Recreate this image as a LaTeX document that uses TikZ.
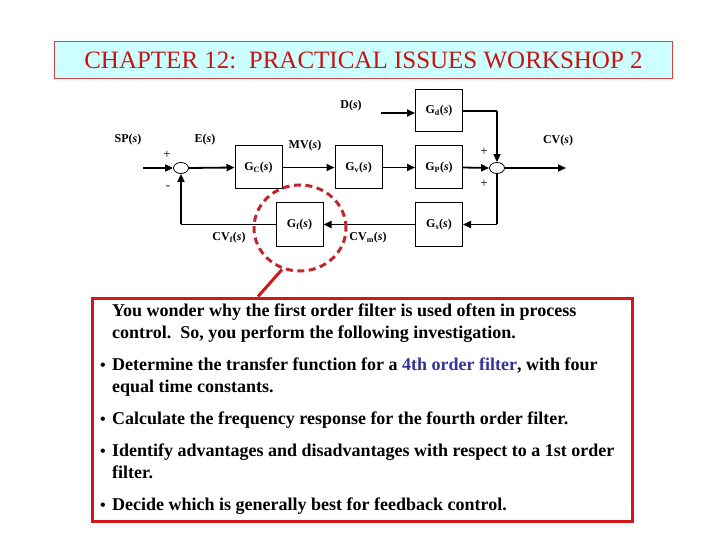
\documentclass[tikz,border=0pt]{standalone}
\usepackage{fontspec}
\setmainfont{Liberation Serif}
\usetikzlibrary{arrows.meta,shapes.geometric}
\definecolor{titlered}{HTML}{CC1111}
\definecolor{titlefill}{HTML}{CCFFFF}
\definecolor{boxred}{HTML}{D01818}
\definecolor{circred}{HTML}{C02830}
\definecolor{hiblue}{HTML}{333399}
\begin{document}
\begin{tikzpicture}[x=1pt,y=-1pt,
  blk/.style={draw,line width=1pt,minimum width=47pt,minimum height=43pt,inner sep=0pt,font=\fontsize{12}{14}\selectfont\bfseries},
  sumj/.style={draw,ellipse,line width=0.8pt,minimum width=15pt,minimum height=11pt,inner sep=0pt},
  lbl/.style={font=\fontsize{12}{14}\selectfont\bfseries,inner sep=0pt},
  sgn/.style={font=\fontsize{13}{15}\selectfont,inner sep=0pt},
  sig/.style={line width=1.8pt,-{Triangle[length=8pt,width=7pt]}},
  thinsig/.style={line width=1.2pt},
  body/.style={font=\fontsize{18}{21}\selectfont\bfseries,anchor=base west,inner sep=0pt},
  bul/.style={font=\fontsize{16}{19}\selectfont\bfseries,anchor=base,inner sep=0pt}
]
\useasboundingbox (0,0) rectangle (720,540);
% title
\node[draw=titlered!80,line width=0.8pt,fill=titlefill,minimum width=618pt,minimum height=36.5pt,inner sep=0pt,
  font=\fontsize{25}{28}\selectfont,text=titlered] (title) at (363.5,60) {CHAPTER 12:\ \ PRACTICAL ISSUES WORKSHOP 2};
% blocks
\node[blk] (gc) at (258.5,167.5) {G\textsubscript{C}(\textit{s})};
\node[blk] (gv) at (358.5,167.5) {G\textsubscript{v}(\textit{s})};
\node[blk] (gp) at (439,167.5) {G\textsubscript{P}(\textit{s})};
\node[blk,minimum height=42pt] (gd) at (439,111) {G\textsubscript{d}(\textit{s})};
\node[blk] (gs) at (439,224.5) {G\textsubscript{s}(\textit{s})};
\node[blk] (gf) at (299.5,224.5) {G\textsubscript{f}(\textit{s})};
\node[sumj] (s1) at (181,168) {};
\node[sumj] (s2) at (497,168) {};
\coordinate (spin) at (143,168);
\coordinate (dstart) at (381,113);
\coordinate (cvout) at (566,168);
\coordinate (cgd) at (497,111);
\coordinate (cgs) at (497,224.5);
\coordinate (cgf) at (181,224.5);
% labels
\node[lbl] (lsp) at (128,140) {SP(\textit{s})};
\node[lbl] (le) at (205,140) {E(\textit{s})};
\node[lbl] (lmv) at (305,146) {MV(\textit{s})};
\node[lbl] (ld) at (351,106) {D(\textit{s})};
\node[lbl] (lcv) at (558,141) {CV(\textit{s})};
\node[lbl] (lcvf) at (229,238) {CV\textsubscript{f}(\textit{s})};
\node[lbl] (lcvm) at (368,238) {CV\textsubscript{m}(\textit{s})};
\node[sgn] (p1) at (167,155) {+};
\node[sgn] (m1) at (168,188) {-};
\node[sgn] (p2) at (484,152) {+};
\node[sgn] (p3) at (484,184) {+};
% connectors
\draw[sig] (spin) -- (s1.west);
\draw[sig] (s1.east) -- (gc.west);
\draw[sig] (gc.east) -- (gv.west);
\draw[sig] (gv.east) -- (gp.west);
\draw[sig] (gp.east) -- (s2.west);
\draw[sig] (s2.east) -- (cvout);
\draw[sig] (dstart) -- (dstart -| gd.west);
\draw[thinsig] (gd.east |- cgd) -- (cgd);
\draw[sig,line width=1.6pt] (cgd) -- (s2.north);
\draw[thinsig] (s2.south) -- (cgs);
\draw[sig] (cgs) -- (gs.east);
\draw[sig] (gs.west) -- (gf.east);
\draw[thinsig] (gf.west) -- (cgf);
\draw[sig,line width=1.6pt] (cgf) -- (s1.south);
% highlight
\draw[circred,line width=3pt,dash pattern=on 7pt off 4.5pt] (300,228) ellipse [x radius=46pt,y radius=43pt];
\coordinate (cbot) at (282,269.5);
\node[draw=boxred,line width=3pt,minimum width=540pt,minimum height=223pt,inner sep=0pt,anchor=north west] (tbox) at (90.5,296.5) {};
\draw[boxred,line width=3pt] (cbot) -- (258,296.5);
% text
\node[body] (l1) at (112,316) {You wonder why the first order filter is used often in process};
\node[body] (l2) at (112,338) {control.\ \ So, you perform the following investigation.};
\node[bul] (b1) at (103,370) {\textbullet};
\node[body] (l3) at (112,370) {Determine the transfer function for a \textcolor{hiblue}{4th order filter}, with four};
\node[body] (l4) at (112,392) {equal time constants.};
\node[bul] (b2) at (103,424) {\textbullet};
\node[body] (l5) at (112,424) {Calculate the frequency response for the fourth order filter.};
\node[bul] (b3) at (103,456) {\textbullet};
\node[body] (l6) at (112,456) {Identify advantages and disadvantages with respect to a 1st order};
\node[body] (l7) at (112,478) {filter.};
\node[bul] (b4) at (103,510) {\textbullet};
\node[body] (l8) at (112,510) {Decide which is generally best for feedback control.};
\end{tikzpicture}
\end{document}
